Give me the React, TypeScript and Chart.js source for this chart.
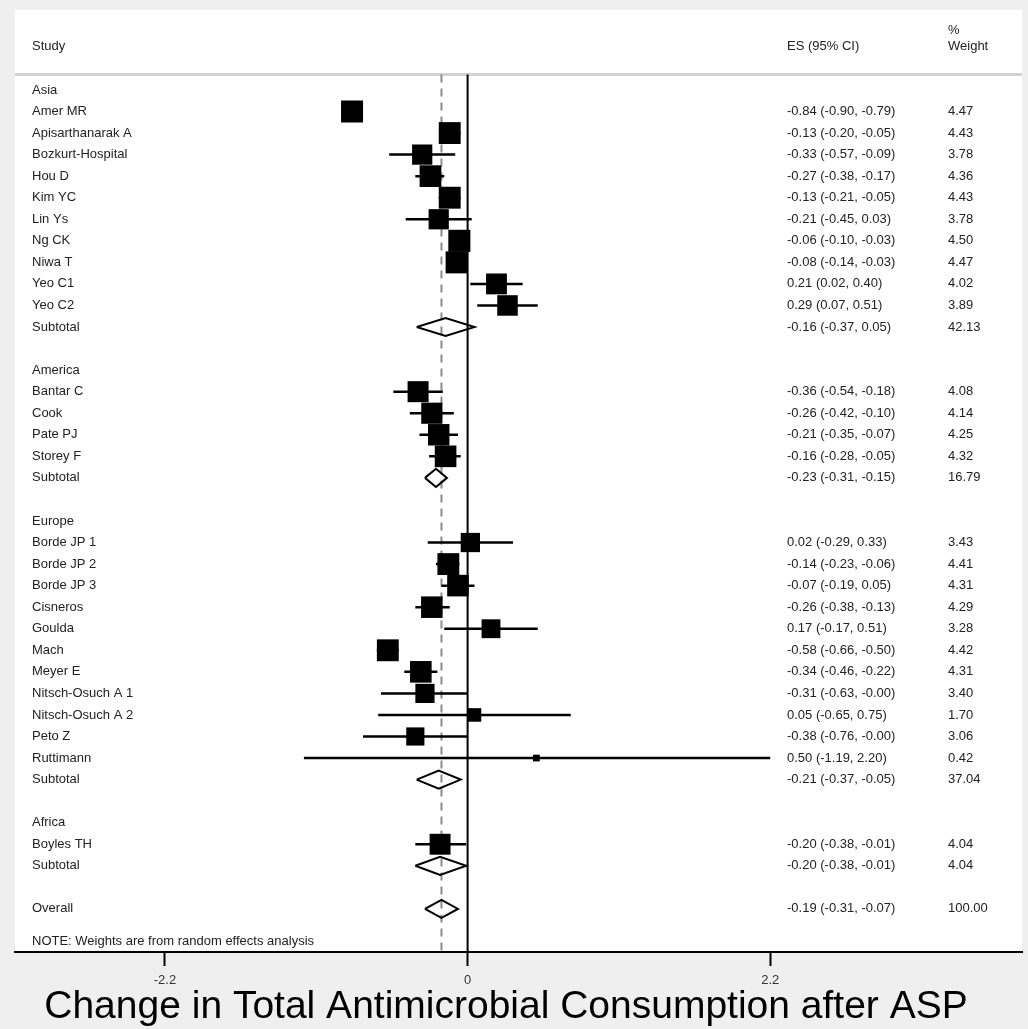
import React, { useEffect, useRef } from "react";
import { Chart, registerables } from "chart.js";
Chart.register(...registerables);

// ---------------- data ----------------
const groupNames = ["Asia", "America", "Europe", "Africa"];
const studyGroup = [0, 0, 0, 0, 0, 0, 0, 0, 0, 0, 1, 1, 1, 1, 2, 2, 2, 2, 2, 2, 2, 2, 2, 2, 2, 3];
const studyNames = [
  "Amer MR", "Apisarthanarak A", "Bozkurt-Hospital", "Hou D", "Kim YC", "Lin Ys", "Ng CK", "Niwa T", "Yeo C1", "Yeo C2",
  "Bantar C", "Cook", "Pate PJ", "Storey F",
  "Borde JP 1", "Borde JP 2", "Borde JP 3", "Cisneros", "Goulda", "Mach", "Meyer E", "Nitsch-Osuch A 1", "Nitsch-Osuch A 2", "Peto Z", "Ruttimann",
  "Boyles TH",
];
const studyEs = [-0.84, -0.13, -0.33, -0.27, -0.13, -0.21, -0.06, -0.08, 0.21, 0.29, -0.36, -0.26, -0.21, -0.16, 0.02, -0.14, -0.07, -0.26, 0.17, -0.58, -0.34, -0.31, 0.05, -0.38, 0.5, -0.2];
const studyLo = [-0.9, -0.2, -0.57, -0.38, -0.21, -0.45, -0.1, -0.14, 0.02, 0.07, -0.54, -0.42, -0.35, -0.28, -0.29, -0.23, -0.19, -0.38, -0.17, -0.66, -0.46, -0.63, -0.65, -0.76, -1.19, -0.38];
const studyHi = [-0.79, -0.05, -0.09, -0.17, -0.05, 0.03, -0.03, -0.03, 0.4, 0.51, -0.18, -0.1, -0.07, -0.05, 0.33, -0.06, 0.05, -0.13, 0.51, -0.5, -0.22, -0.0, 0.75, -0.0, 2.2, -0.01];
const studyWeights = [4.47, 4.43, 3.78, 4.36, 4.43, 3.78, 4.5, 4.47, 4.02, 3.89, 4.08, 4.14, 4.25, 4.32, 3.43, 4.41, 4.31, 4.29, 3.28, 4.42, 4.31, 3.4, 1.7, 3.06, 0.42, 4.04];
const subtotalEs = [-0.16, -0.23, -0.21, -0.2];
const subtotalLo = [-0.37, -0.31, -0.37, -0.38];
const subtotalHi = [0.05, -0.15, -0.05, -0.01];
const subtotalWeights = [42.13, 16.79, 37.04, 4.04];
const overallEs = -0.19;
const overallLo = -0.31;
const overallHi = -0.07;
const overallWeight = 100.0;
const xTicks = [-2.2, 0, 2.2];
const titleText = "Change in Total Antimicrobial Consumption after ASP";
const noteText = "NOTE: Weights are from random effects analysis";

// ---------------- layout helpers ----------------
const FONT = "'Liberation Sans', Arial, sans-serif";
const fmt = (v: number) => (v < 0 || Object.is(v, -0) ? "-" : "") + Math.abs(v).toFixed(2);
const ciText = (e: number, l: number, h: number) => `${fmt(e)} (${fmt(l)}, ${fmt(h)})`;

type Row = { label: string; kind: "group" | "study" | "subtotal" | "overall"; es?: number; lo?: number; hi?: number; w?: number; row: number };

function buildRows(): Row[] {
  const rows: Row[] = [];
  let r = 0;
  groupNames.forEach((g, gi) => {
    rows.push({ label: g, kind: "group", row: r++ });
    studyNames.forEach((n, i) => {
      if (studyGroup[i] !== gi) return;
      rows.push({ label: n, kind: "study", es: studyEs[i], lo: studyLo[i], hi: studyHi[i], w: studyWeights[i], row: r++ });
    });
    rows.push({ label: "Subtotal", kind: "subtotal", es: subtotalEs[gi], lo: subtotalLo[gi], hi: subtotalHi[gi], w: subtotalWeights[gi], row: r++ });
    r++; // blank
  });
  rows.push({ label: "Overall", kind: "overall", es: overallEs, lo: overallLo, hi: overallHi, w: overallWeight, row: r++ });
  return rows;
}

const HEADER_LINE_ROW = -0.72;
const Y_MIN = -3.71;
const Y_MAX = 40.0;
const DIAMOND_HALF = 0.42;

export default function App() {
  const ref = useRef<HTMLCanvasElement | null>(null);

  useEffect(() => {
    const rows = buildRows();
    const studyRows = rows.filter((r) => r.kind === "study");
    const diamondRows = rows.filter((r) => r.kind === "subtotal" || r.kind === "overall");

    const ciData: any[] = [];
    studyRows.forEach((r) => {
      ciData.push({ x: r.lo, y: r.row }, { x: r.hi, y: r.row }, { x: null, y: null });
    });
    const diamondData: any[] = [];
    diamondRows.forEach((r) => {
      diamondData.push(
        { x: r.lo, y: r.row },
        { x: r.es, y: r.row - DIAMOND_HALF },
        { x: r.hi, y: r.row },
        { x: r.es, y: r.row + DIAMOND_HALF },
        { x: r.lo, y: r.row },
        { x: null, y: null }
      );
    });
    const squareData = studyRows.map((r) => ({ x: r.es, y: r.row, w: r.w }));

    const textPlugin = {
      id: "forestText",
      beforeDraw(chart: any) {
        const { ctx, chartArea } = chart;
        ctx.save();
        ctx.fillStyle = "#efefef";
        ctx.fillRect(0, 0, chart.width, chart.height);
        ctx.fillStyle = "#ffffff";
        ctx.fillRect(chartArea.left, chartArea.top, chartArea.right - chartArea.left, chartArea.bottom - chartArea.top);
        const ys = chart.scales.y;
        const yl = ys.getPixelForValue(HEADER_LINE_ROW);
        ctx.strokeStyle = "#d2d2d2";
        ctx.lineWidth = 3;
        ctx.beginPath();
        ctx.moveTo(chartArea.left, yl);
        ctx.lineTo(chartArea.right, yl);
        ctx.stroke();
        ctx.restore();
      },
      afterDraw(chart: any) {
        const { ctx } = chart;
        const ys = chart.scales.y;
        ctx.save();
        ctx.font = `13px ${FONT}`;
        ctx.fillStyle = "#222";
        ctx.textBaseline = "middle";
        ctx.textAlign = "left";
        const xLabel = 32;
        const xEs = 787;
        const xW = 948;
        // header
        ctx.fillText("Study", xLabel, ys.getPixelForValue(-2.0));
        ctx.fillText("ES (95% CI)", xEs, ys.getPixelForValue(-2.0));
        ctx.fillText("%", xW, ys.getPixelForValue(-2.78));
        ctx.fillText("Weight", xW, ys.getPixelForValue(-2.0));
        rows.forEach((r) => {
          const y = ys.getPixelForValue(r.row);
          ctx.fillText(r.label, xLabel, y);
          if (r.kind !== "group") {
            ctx.fillText(ciText(r.es as number, r.lo as number, r.hi as number), xEs, y);
            ctx.fillText((r.w as number).toFixed(2), xW, y);
          }
        });
        ctx.fillText(noteText, xLabel, ys.getPixelForValue(39.5));
        // big title
        ctx.font = `39px ${FONT}`;
        ctx.fillStyle = "#000";
        ctx.textAlign = "center";
        ctx.textBaseline = "alphabetic";
        ctx.fillText(titleText, 506, 1018);
        ctx.restore();
      },
    };

    const chart = new Chart(ref.current as HTMLCanvasElement, {
      type: "line",
      data: {
        datasets: [
          {
            data: squareData,
            showLine: false,
            pointStyle: "rect",
            pointRadius: (c: any) => (10.4 * Math.sqrt(c.raw?.w ?? 1)) / (2 * Math.SQRT1_2),
            pointBackgroundColor: "#000",
            pointBorderWidth: 0,
            order: 1,
          } as any,
          {
            data: diamondData,
            borderColor: "#000",
            borderWidth: 2,
            pointRadius: 0,
            tension: 0,
            fill: false,
            order: 2,
          },
          {
            data: ciData,
            borderColor: "#000",
            borderWidth: 2.5,
            pointRadius: 0,
            tension: 0,
            order: 3,
          },
          {
            data: [
              { x: 0, y: HEADER_LINE_ROW },
              { x: 0, y: Y_MAX },
            ],
            borderColor: "#000",
            borderWidth: 2,
            pointRadius: 0,
            order: 4,
          },
          {
            data: [
              { x: overallEs, y: HEADER_LINE_ROW },
              { x: overallEs, y: Y_MAX },
            ],
            borderColor: "#8c8c8c",
            borderWidth: 2,
            borderDash: [8, 6],
            pointRadius: 0,
            order: 5,
          },
        ],
      },
      options: {
        animation: false,
        responsive: true,
        maintainAspectRatio: false,
        events: [],
        layout: { autoPadding: false, padding: { left: 15, right: 6, top: 10, bottom: 0 } },
        plugins: { legend: { display: false }, tooltip: { enabled: false }, title: { display: false } },
        scales: {
          x: {
            type: "linear",
            min: -3.29,
            max: 4.03,
            afterBuildTicks: (s: any) => {
              s.ticks = xTicks.map((v) => ({ value: v }));
            },
            afterFit: (s: any) => {
              s.height = 77;
            },
            border: { display: true, color: "#000", width: 2 },
            grid: { display: true, drawOnChartArea: false, drawTicks: true, tickLength: 14, tickWidth: 2, tickColor: "#000", color: "#000" },
            ticks: {
              font: { family: FONT, size: 13 },
              color: "#333",
              padding: 7,
              maxRotation: 0,
              autoSkip: false,
              callback: (v: any) => String(v),
            },
          },
          y: {
            type: "linear",
            display: false,
            reverse: true,
            min: Y_MIN,
            max: Y_MAX,
          },
        },
      } as any,
      plugins: [textPlugin],
    });
    return () => chart.destroy();
  }, []);

  return (
    <div style={{ position: "absolute", left: 0, top: 0, width: 1028, height: 1029 }}>
      <canvas ref={ref} />
    </div>
  );
}
